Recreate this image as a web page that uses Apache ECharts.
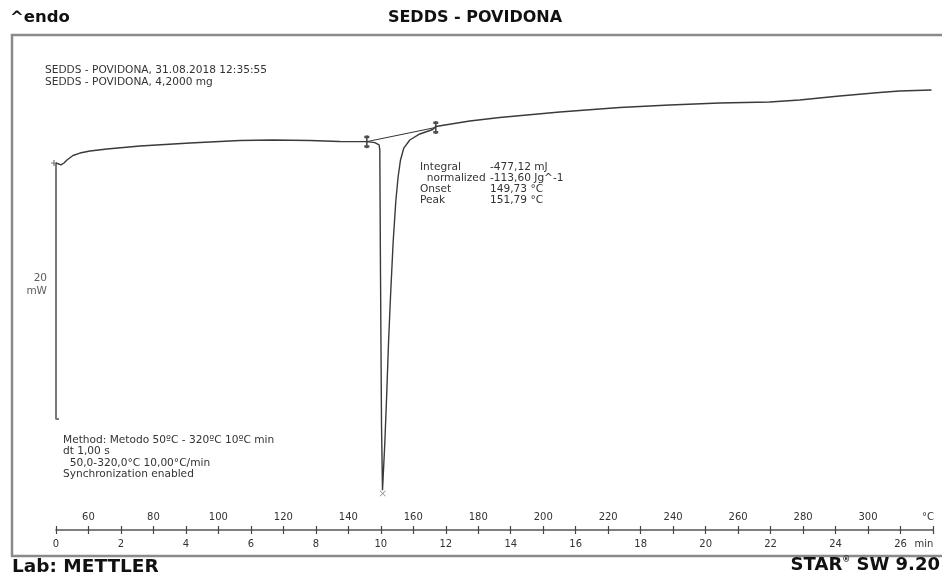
<!DOCTYPE html>
<html>
<head>
<meta charset="utf-8">
<script src="https://cdn.jsdelivr.net/npm/echarts@6/dist/echarts.min.js"></script>
<style>
html,body{margin:0;padding:0;background:#fff;}
#c{width:942px;height:577px;}
</style>
</head>
<body>
<div id="c"></div>
<script>
// ---- DATA ----
// DSC heat-flow curve (time in min, heat flow in mW, arbitrary offset)
const timeMin = [0.000,0.154,0.246,0.338,0.523,0.738,1.046,1.569,2.585,4.123,5.662,6.677,7.815,8.738,9.569,9.815,9.948,9.969,9.991,10.022,10.052,10.071,10.123,10.175,10.237,10.298,10.378,10.462,10.532,10.606,10.708,10.892,11.200,11.600,11.692,12.738,13.662,15.508,17.354,18.892,20.431,21.969,22.892,24.123,25.354,25.969,26.954];
const heatFlow = [28.67,28.52,28.67,28.91,29.26,29.45,29.61,29.77,30.00,30.23,30.43,30.47,30.43,30.35,30.34,30.26,30.08,29.69,19.77,8.05,3.10,3.02,6.80,10.16,14.61,18.20,22.42,25.70,27.58,28.91,29.84,30.47,30.94,31.29,31.52,31.95,32.23,32.66,33.01,33.20,33.36,33.44,33.59,33.91,34.18,34.30,34.38];
// integration baseline / limits
const baselineTime = [9.569, 11.692];
const baselineHF = [30.34, 31.45];
// peak marker
const peakTime = [10.06];
const peakHF = [2.85];
// 20 mW scale bar
const scaleBarTime = [0, 0, 0.09];
const scaleBarHF = [28.67, 8.67, 8.67];
const scaleBarLabel = '20\nmW';
// axis tick labels
const timeTickLabels = [0,2,4,6,8,10,12,14,16,18,20,22,24,26];
const tempTickLabels = [60,80,100,120,140,160,180,200,220,240,260,280,300];
// text
const titleText = 'SEDDS - POVIDONA';
const infoLines = ['SEDDS - POVIDONA, 31.08.2018 12:35:55','SEDDS - POVIDONA, 4,2000 mg'];
const evalLabels = ['Integral','  normalized','Onset','Peak'];
const evalValues = ['-477,12 mJ','-113,60 Jg^-1','149,73 °C','151,79 °C'];
const methodLines = ['Method: Metodo 50ºC - 320ºC 10ºC min','dt 1,00 s','  50,0-320,0°C 10,00°C/min','Synchronization enabled'];

// ---- CHART ----
const zip = (a,b) => a.map((v,i)=>[v,b[i]]);
const chart = echarts.init(document.getElementById('c'), null, {renderer:'canvas'});
const small = {fontFamily:'DejaVu Sans', fontSize:10.6, fill:'#333'};
const graphics = [
  {type:'rect', shape:{x:12,y:35,width:945,height:521}, style:{fill:'none',stroke:'#8a8a8a',lineWidth:2.5}, z:-1},
  {type:'text', left:10, top:9, style:{text:'^endo', font:'bold 16.5px "DejaVu Sans"', fill:'#111'}},
  {type:'text', x:475, y:18, style:{text:titleText, font:'bold 16px "DejaVu Sans"', fill:'#111', textAlign:'center', textVerticalAlign:'middle'}},
  {type:'text', x:12, y:567, style:{text:'Lab: METTLER', font:'bold 18.5px "DejaVu Sans"', fill:'#111', textVerticalAlign:'middle'}},
  {type:'text', right:2, top:556, style:{text:'{a|STAR}{r|®}{a| SW 9.20}', rich:{a:{font:'bold 18px "DejaVu Sans"', fill:'#111'}, r:{font:'bold 8px "DejaVu Sans"', fill:'#111', verticalAlign:'top', padding:[0,0,8,0]}}}}
];
infoLines.forEach((t,i)=>graphics.push({type:'text', x:45, y:70+12*i, style:Object.assign({text:t, textVerticalAlign:'middle'}, small)}));
evalLabels.forEach((t,i)=>graphics.push({type:'text', x:420, y:167+11*i, style:Object.assign({text:t, textVerticalAlign:'middle'}, small)}));
evalValues.forEach((t,i)=>graphics.push({type:'text', x:490, y:167+11*i, style:Object.assign({text:t, textVerticalAlign:'middle'}, small)}));
methodLines.forEach((t,i)=>graphics.push({type:'text', x:63, y:440+11.4*i, style:Object.assign({text:t, textVerticalAlign:'middle'}, small)}));

const limitSymbol = 'path://M4,0h2v26h-2z M2,1h6v5h-6z M2,20h6v5h-6z';
const crossSymbol = 'path://M0,1L1,0L5,4L9,0L10,1L6,5L10,9L9,10L5,6L1,10L0,9L4,5Z';
const plusSymbol = 'path://M4,0h2v4h4v2h-4v4h-2v-4h-4v-2h4z';

const option = {
  animation:false,
  backgroundColor:'#fff',
  graphic: graphics,
  grid:{left:56, right:9, top:18, bottom:47},
  xAxis:[
    {type:'value', min:0, max:27, interval:1, position:'bottom',
     axisLine:{show:true, lineStyle:{color:'#555', width:1.5}},
     axisTick:{show:true, length:4, lineStyle:{color:'#444', width:1.2}},
     splitLine:{show:false},
     axisLabel:{show:true, margin:9, fontFamily:'DejaVu Sans', fontSize:10, color:'#333', showMinLabel:true, showMaxLabel:true,
       formatter:(v)=> v===27 ? '{u|min}' : (timeTickLabels.indexOf(v)>=0 ? String(v) : ''),
       rich:{u:{fontFamily:'DejaVu Sans', fontSize:10, color:'#333', padding:[0,18,0,0]}}}},
    {type:'value', min:50, max:320, interval:10, position:'bottom',
     axisLine:{show:false},
     axisTick:{show:true, inside:true, length:4, lineStyle:{color:'#444', width:1.2}},
     splitLine:{show:false},
     axisLabel:{show:true, inside:true, margin:8, fontFamily:'DejaVu Sans', fontSize:10, color:'#333', showMinLabel:true, showMaxLabel:true,
       formatter:(v)=> v===320 ? '{u|°C}' : (tempTickLabels.indexOf(v)>=0 ? String(v) : ''),
       rich:{u:{fontFamily:'DejaVu Sans', fontSize:10, color:'#333', padding:[0,10,0,0]}}}}
  ],
  yAxis:{type:'value', min:0, max:40, show:false, splitLine:{show:false}},
  series:[
    {type:'line', data:zip(scaleBarTime, scaleBarHF), showSymbol:false, clip:false,
     lineStyle:{color:'#7a7a7a', width:2}},
    {type:'scatter', data:[[scaleBarTime[0], scaleBarHF[0]]], symbol:plusSymbol, symbolSize:6, symbolOffset:[-2,0], itemStyle:{color:'#555'}},
    {type:'scatter', data:[[scaleBarTime[0], (scaleBarHF[0]+scaleBarHF[1])/2]], symbolSize:0,
     label:{show:true, position:'left', distance:9, offset:[0,-6], formatter:scaleBarLabel, align:'right', fontFamily:'DejaVu Sans', fontSize:10.5, lineHeight:13, color:'#333'}},
    {type:'line', data:zip(timeMin, heatFlow), showSymbol:false, lineStyle:{color:'#3a3a3a', width:1.4}},
    {type:'line', data:zip(baselineTime, baselineHF), showSymbol:false, lineStyle:{color:'#333', width:1}},
    {type:'scatter', data:zip(baselineTime, baselineHF), symbol:limitSymbol, symbolSize:[5,13], itemStyle:{color:'#222'}},
    {type:'scatter', data:zip(peakTime, peakHF), symbol:crossSymbol, symbolSize:6, itemStyle:{color:'#777'}}
  ]
};
chart.setOption(option);
</script>
</body>
</html>
